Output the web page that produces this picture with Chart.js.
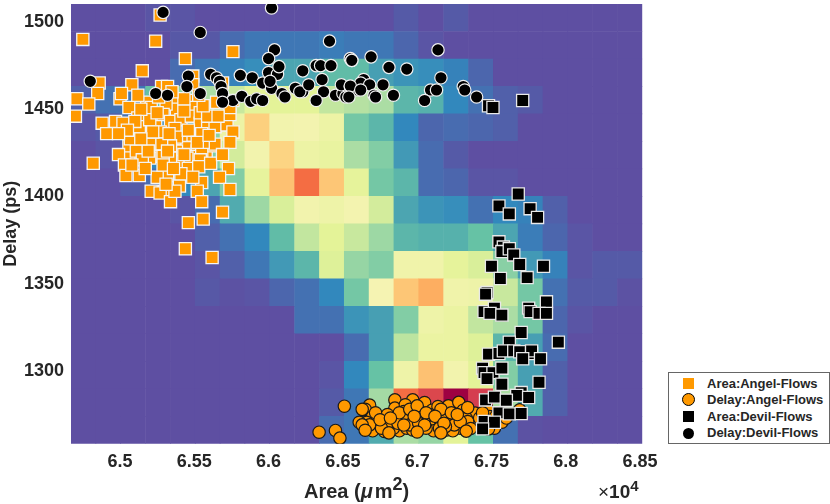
<!DOCTYPE html>
<html>
<head>
<meta charset="utf-8">
<title>Area vs Delay</title>
<script src="https://cdn.jsdelivr.net/npm/chart.js@4/dist/chart.umd.min.js"></script>
<style>
    body { margin: 0; background: #fff; font-family: "Liberation Sans", Arial, sans-serif; }
    #wrap { position: relative; width: 830px; height: 504px; overflow: hidden; }
    #xLabel { position: absolute; left: 304px; top: 480px; font-size: 20px; font-weight: bold; color: #262626; white-space: nowrap; }
    #xLabel sup { font-size: 18px; line-height: 0; }
    #xLabel i { padding-right: 2px; }
    #xExp { position: absolute; left: 598px; top: 481px; font-size: 19px; font-weight: bold; color: #262626; white-space: nowrap; }
    #xExp span { font-weight: normal; }
    #xExp sup { font-size: 15px; line-height: 0; }
    #legend { position: absolute; left: 668px; top: 372px; width: 160px; height: 70px; border: 1px solid #666; background: #fff; }
    .row { position: absolute; left: 38px; font-size: 13px; font-weight: bold; color: #262626; white-space: nowrap; line-height: 16px; }
    .mark { position: absolute; left: 13px; box-sizing: border-box; }
</style>
</head>
<body>
<div id="wrap">
    <canvas id="chart" width="830" height="504"></canvas>
    <div id="xLabel">Area (<i>&mu;</i>m<sup>2</sup>)</div>
    <div id="xExp"><span>&times;</span>10<sup>4</sup></div>
    <div id="legend"></div>
</div>
<script>
// axis ticks (area is in units of 10^4 um^2)
const areaTicks = [6.5, 6.55, 6.6, 6.65, 6.7, 6.75, 6.8, 6.85];
const delayTicks = [1300, 1350, 1400, 1450, 1500];

// background density, 23 columns and 16 rows (top row first), 0 to 10 on the colormap
const heatAreaCenters = [6.4754, 6.4921, 6.5088, 6.5256, 6.5423, 6.5590, 6.5757, 6.5924, 6.6091, 6.6259, 6.6426, 6.6593,
    6.6760, 6.6927, 6.7094, 6.7262, 6.7429, 6.7596, 6.7763, 6.7930, 6.8097, 6.8265, 6.8432];
const heatDelayEdges = [1510.3, 1494.55, 1478.8, 1463.05, 1447.3, 1431.55, 1415.8, 1400.05, 1384.3,
    1368.55, 1352.8, 1337.05, 1321.3, 1305.55, 1289.8, 1274.05, 1258.3];
const heatValues = [
    [0, 0, 0, .1, .1, 0, 0, 0, 0, 0, 0, 0, 0, .2, 0, .2, 0, 0, 0, 0, 0, 0, 0],
    [0, 0, 0, 0, .15, .15, .5, .7, .7, .7, .8, .7, .7, .4, .1, 0, 0, 0, 0, 0, 0, 0, 0],
    [0, 0, 0, 0, .5, .7, .9, 1.1, 1.5, 1.5, 1.9, 1.9, 1.4, 1.2, 1.1, .9, .4, 0, 0, 0, 0, 0, 0],
    [.3, .6, .7, 2, 2.5, 3, 3.5, 4, 4, 4, 3.4, 3.2, 3, 1.8, 1.7, 1, .6, .3, .2, 0, 0, 0, 0],
    [.1, .2, .6, 1, 1.5, 2.5, 4.5, 6.3, 4.8, 4.9, 4.5, 2.2, 1.8, 1, .4, .5, .4, .3, 0, 0, 0, 0, 0],
    [0, .1, .3, 1, 1.5, 2.4, 3.7, 4.8, 6.2, 4.5, 4.3, 3, 2.4, 1.3, .5, .2, 0, 0, 0, 0, 0, 0, 0],
    [0, 0, .2, .5, 1, 1.5, 2.4, 4.2, 6.6, 8, 6.5, 4.1, 2.2, 1.8, .5, .4, .1, .1, 0, 0, 0, 0, 0],
    [0, 0, 0, 0, .1, .5, 1.6, 2.8, 3.8, 4.8, 4.6, 4.9, 3.7, 1.5, 1.2, 1.1, .6, 1, .9, .3, 0, 0, 0],
    [0, 0, 0, 0, 0, .3, .6, 1, 1.9, 3.4, 4, 3.5, 2.8, 1.8, 1.7, 1.7, 2, 1.5, .8, .4, .1, 0, 0],
    [0, 0, 0, 0, 0, .1, .3, .7, 1.3, 1.8, 3.9, 2.7, 2.4, 4.7, 4.7, 4.1, 3.8, 2.5, 1.3, .9, .1, .2, .2],
    [0, 0, 0, 0, 0, .15, .05, .1, .4, .6, 1, 2.2, 5, 6.5, 7, 4.7, 4.6, 3.5, 2.2, .6, .2, .2, .05],
    [0, 0, 0, 0, 0, 0, 0, 0, 0, .6, .6, 1.2, 1.4, 2.4, 4.6, 4.4, 3.4, 3, 2.2, .4, .1, 0, 0],
    [0, 0, 0, 0, 0, 0, 0, 0, 0, 0, 0, .5, 1.4, 3.3, 4.4, 4.4, 3.9, 1.8, 1.4, .5, 0, 0, 0],
    [0, 0, 0, 0, 0, 0, 0, 0, 0, 0, .1, 1, 2, 4.6, 6.6, 4.8, 4, 2.4, 1.4, .3, 0, 0, 0],
    [0, 0, 0, 0, 0, 0, 0, 0, 0, 0, .2, .7, 2.9, 8, 8.8, 10, 9, 3, 1.6, .3, 0, 0, 0],
    [0, 0, 0, 0, 0, 0, 0, 0, 0, 0, .5, .7, 1.6, 3, 2.7, 4, 2, .6, .05, 0, 0, 0, 0]
];
const heatStops = [[94, 79, 162], [50, 136, 189], [102, 194, 165], [171, 221, 164], [228, 243, 152], [245, 243, 178],
    [252, 222, 139], [253, 174, 97], [244, 109, 67], [213, 62, 79], [158, 1, 66]];

// [area, delay]
const areaAngelFlows = [[6.527,1504],[6.475,1490],[6.524,1489],[6.576,1483],[6.544,1479],[6.515,1472],[6.486,1465],[6.508,1464],
    [6.485,1459],[6.471,1456],[6.479,1453],[6.470,1446],[6.500,1456],[6.501,1459],[6.528,1463],[6.532,1463],[6.549,1469],[6.549,1464],
    [6.569,1465],[6.565,1454],[6.576,1455],[6.518,1454],[6.521,1451],[6.506,1451],[6.536,1454],[6.538,1450],[6.548,1455],[6.549,1451],
    [6.531,1453],[6.529,1447],[6.534,1443],[6.541,1444],[6.548,1446],[6.554,1442],[6.559,1441],[6.564,1440],[6.572,1441],[6.574,1447],
    [6.574,1451],[6.576,1437],[6.488,1442],[6.497,1443],[6.502,1442],[6.491,1436],[6.515,1441],[6.524,1440],[6.537,1439],[6.512,1445],
    [6.527,1437],[6.510,1436],[6.518,1434],[6.548,1435],[6.541,1433],[6.545,1428],[6.538,1426],[6.527,1430],[6.516,1429],[6.506,1423],
    [6.538,1434],[6.552,1426],[6.558,1423],[6.563,1429],[6.549,1423],[6.545,1422],[6.513,1440],[6.520,1444],[6.525,1448],[6.543,1449],
    [6.554,1448],[6.559,1446],[6.534,1429],[6.528,1430],[6.520,1430],[6.506,1429],[6.511,1426],[6.499,1424],[6.503,1418],[6.504,1412],
    [6.513,1412],[6.525,1423],[6.539,1420],[6.534,1422],[6.529,1423],[6.520,1422],[6.515,1421],[6.555,1426],[6.564,1430],[6.574,1431],
    [6.556,1431],[6.554,1421],[6.546,1416],[6.553,1417],[6.573,1416],[6.567,1411],[6.574,1404],[6.555,1408],[6.532,1412],[6.525,1411],
    [6.521,1403],[6.530,1403],[6.527,1402],[6.540,1406],[6.552,1403],[6.534,1397],[6.555,1397],[6.569,1391],[6.546,1385],[6.556,1387],
    [6.482,1419],[6.537,1403],[6.531,1407],[6.544,1370],[6.562,1365],
    [6.514,1450],[6.543,1456],[6.556,1452],[6.510,1443],[6.533,1436],[6.546,1438],[6.555,1436],[6.522,1437],[6.507,1433],[6.519,1426],
    [6.532,1426],[6.543,1424],[6.552,1431],[6.560,1435],[6.505,1438],[6.499,1436],[6.514,1433],[6.529,1418],[6.541,1413],[6.517,1416],
    [6.508,1418],[6.536,1416],[6.549,1411],[6.561,1419],[6.569,1424],[6.566,1446],[6.553,1458],[6.526,1457],[6.535,1460],[6.512,1458]];
const delayAngelFlows = [[6.668,1280.4],[6.665,1278],[6.685,1283.4],[6.685,1278.7],[6.697,1283.4],[6.692,1280.6],[6.705,1281.9],[6.710,1277.5],
    [6.721,1280],[6.728,1282],[6.731,1277.5],[6.739,1275.8],[6.747,1278.3],[6.714,1279.6],[6.701,1277.7],[6.691,1276.7],[6.670,1273.9],
    [6.662,1270.4],[6.666,1270.6],[6.677,1272.9],[6.683,1270.6],[6.688,1272.9],[6.695,1272.9],[6.700,1271],[6.713,1271],[6.720,1272],
    [6.725,1273.3],[6.722,1269.1],[6.731,1268.1],[6.738,1269.1],[6.743,1269.5],[6.757,1270.6],[6.769,1277.7],[6.749,1273.9],[6.752,1267.2],
    [6.748,1266.8],[6.708,1271],[6.703,1273.9],[6.717,1275.8],[6.674,1269.1],[6.670,1265.7],[6.678,1265.3],[6.688,1265.7],[6.701,1267.2],
    [6.711,1265.7],[6.720,1266.2],[6.729,1267.2],[6.684,1267.2],[6.693,1267.2],[6.697,1266.2],[6.715,1267.2],[6.724,1265.7],[6.706,1267.2],
    [6.733,1272.9],[6.692,1272],[6.680,1269.1],[6.734,1271],[6.709,1274.8],[6.725,1269.1],[6.668,1269.1],[6.695,1269.1],[6.719,1268.1],
    [6.687,1270],[6.676,1267.2],[6.701,1270],[6.729,1271],[6.651,1279.8],[6.634,1264.9],[6.645,1265.9],[6.648,1261.5],[6.661,1270.6],
    [6.663,1269.1],[6.663,1278],
    [6.672,1276],[6.680,1275],[6.688,1276],[6.695,1278],[6.700,1280],[6.706,1276],[6.716,1278],[6.723,1276],[6.734,1279],[6.742,1273],
    [6.675,1272],[6.682,1273],[6.691,1269],[6.698,1274],[6.705,1269],[6.712,1274],[6.718,1270],[6.727,1275],[6.736,1267],[6.744,1276],
    [6.753,1274],[6.760,1273],[6.665,1266],[6.681,1264.5],[6.700,1265],[6.716,1264.5],[6.733,1265.5]];
const areaDevilFlows = [[6.748,1452],[6.751,1451],[6.771,1455],[6.768,1401.4],[6.755,1394.6],[6.762,1390],[6.776,1393],[6.781,1388],
    [6.755,1374],[6.758,1371],[6.757,1368.4],[6.762,1370],[6.765,1366.5],[6.750,1360],[6.769,1361],[6.785,1360],[6.774,1353.5],[6.756,1353],
    [6.747,1345],[6.746,1344],[6.787,1339.6],[6.775,1336],[6.776,1334],[6.782,1333],[6.787,1333],[6.745,1334],[6.752,1336],[6.749,1333],
    [6.757,1332],[6.770,1322],[6.762,1316.5],[6.795,1316.5],[6.748,1309.6],[6.755,1310],[6.758,1311.5],[6.765,1311.5],[6.769,1311],
    [6.777,1310],[6.777,1311.5],[6.771,1307],[6.783,1307],[6.744,1301.6],[6.745,1299],[6.751,1299],[6.757,1301.6],[6.747,1295.6],
    [6.757,1292.4],[6.782,1293.5],[6.770,1287.6],[6.767,1286],[6.775,1284.8],[6.746,1283.4],[6.752,1285],[6.760,1283.2],[6.755,1276],
    [6.762,1275.4],[6.770,1275.6],[6.745,1271],[6.752,1270.6],[6.744,1266.8]];
const delayDevilFlows = [[6.529,1505.5],[6.602,1508],[6.554,1494],[6.641,1489],[6.604,1484],[6.600,1479],[6.480,1466],[6.546,1469],[6.545,1463],
    [6.524,1459],[6.532,1458],[6.554,1459],[6.561,1470],[6.565,1468],[6.567,1466],[6.568,1463],[6.569,1459],[6.576,1455],[6.569,1454],
    [6.581,1469.4],[6.589,1468],[6.596,1465],[6.600,1471],[6.606,1470],[6.607,1474.4],[6.582,1457.4],[6.588,1454.5],[6.592,1456],[6.596,1455],
    [6.602,1462],[6.609,1459],[6.611,1457],[6.618,1462],[6.623,1460],[6.621,1460],[6.627,1464],[6.623,1472],[6.636,1467],[6.632,1475],
    [6.635,1475],[6.642,1475],[6.655,1479],[6.656,1478],[6.637,1460],[6.632,1455],[6.645,1458],[6.650,1459],[6.652,1457],[6.649,1464],
    [6.655,1463],[6.660,1461],[6.601,1466],[6.656,1478],[6.669,1480],[6.681,1474],[6.693,1473],[6.714,1484],[6.664,1467],[6.662,1465],
    [6.668,1464],[6.677,1464],[6.655,1463.3],[6.662,1461],[6.671,1458],[6.672,1457],[6.684,1458],[6.654,1457],[6.716,1468],[6.709,1461],
    [6.713,1461],[6.705,1455],[6.731,1463],[6.732,1461],[6.740,1457]];

const textColor = '#262626';
const angelColor = '#ff9900';

// Spectral colormap lookup
function heatColor(v) {
    const i = Math.min(Math.floor(v), heatStops.length - 2);
    const t = v - i;
    const c = heatStops[i].map((a, k) => Math.round(a + (heatStops[i + 1][k] - a) * t));
    return `rgb(${c[0]},${c[1]},${c[2]})`;
}

function toPoints(pairs) {
    return pairs.map(p => ({ x: p[0], y: p[1] }));
}

// one floating bar per heat cell
const heatCells = [];
const heatColors = [];
heatValues.forEach((row, r) => {
    row.forEach((v, c) => {
        heatCells.push({ x: heatAreaCenters[c], y: [heatDelayEdges[r + 1], heatDelayEdges[r]] });
        heatColors.push(heatColor(v));
    });
});

function scatterSet(label, pairs, style, radius, fill, edge, edgeWidth, order) {
    return {
        type: 'scatter',
        label: label,
        data: toPoints(pairs),
        pointStyle: style,
        pointRadius: radius,
        pointBackgroundColor: fill,
        pointBorderColor: edge,
        pointBorderWidth: edgeWidth,
        order: order
    };
}

const tickFont = { family: '"Liberation Sans", Arial, sans-serif', size: 18, weight: 'bold' };

new Chart(document.getElementById('chart').getContext('2d'), {
    type: 'bar',
    data: {
        datasets: [
            scatterSet('Area:Angel-Flows', areaAngelFlows, 'rect', 8.6, angelColor, '#f4f4f4', 1.3, 4),
            scatterSet('Delay:Angel-Flows', delayAngelFlows, 'circle', 6.2, angelColor, '#1a1a1a', 1.2, 3),
            scatterSet('Area:Devil-Flows', areaDevilFlows, 'rect', 8.6, '#000', '#e8e8e8', 1.3, 2),
            scatterSet('Delay:Devil-Flows', delayDevilFlows, 'circle', 6.2, '#000', '#f0f0f0', 1.2, 1),
            {
                type: 'bar',
                label: 'Density',
                data: heatCells,
                backgroundColor: heatColors,
                borderWidth: 0,
                barPercentage: 1,
                categoryPercentage: 1,
                order: 5
            }
        ]
    },
    options: {
        responsive: false,
        animation: false,
        layout: { autoPadding: false, padding: { left: 0, top: 4, right: 187.7, bottom: 0 } },
        plugins: { legend: { display: false }, tooltip: { enabled: false } },
        scales: {
            x: {
                type: 'linear',
                offset: false,
                min: 6.46703,
                max: 6.8515,
                grid: { display: false, drawTicks: false, offset: false },
                border: { display: false },
                afterBuildTicks: s => { s.ticks = areaTicks.map(v => ({ value: v })); },
                afterFit: s => { s.height = 60.3; s.paddingLeft = 0; s.paddingRight = 0; },
                ticks: {
                    color: textColor,
                    font: tickFont,
                    padding: 8,
                    autoSkip: false,
                    maxRotation: 0,
                    callback: v => String(v)
                }
            },
            y: {
                type: 'linear',
                min: 1258.3,
                max: 1510.3,
                grid: { display: false, drawTicks: false },
                border: { display: false },
                afterBuildTicks: s => { s.ticks = delayTicks.map(v => ({ value: v })); },
                afterFit: s => { s.width = 71; s.paddingTop = 0; s.paddingBottom = 0; },
                ticks: { color: textColor, font: tickFont, padding: 7, callback: v => String(v) },
                title: {
                    display: true,
                    text: 'Delay (ps)',
                    color: textColor,
                    font: { family: tickFont.family, size: 18, weight: 'bold' },
                    padding: 0
                }
            }
        }
    }
});

// legend box next to the plot
const legendRows = [
    { label: 'Area:Angel-Flows', top: 3, css: 'width:11px;height:11px;background:' + angelColor + ';left:14px;top:5px' },
    { label: 'Delay:Angel-Flows', top: 19, css: 'width:13px;height:13px;border-radius:50%;background:' + angelColor + ';border:1px solid #000;top:20px' },
    { label: 'Area:Devil-Flows', top: 36, css: 'width:11px;height:11px;background:#000;left:14px;top:38px' },
    { label: 'Delay:Devil-Flows', top: 52, css: 'width:11px;height:11px;border-radius:50%;background:#000;left:14px;top:55px' }
];
const legend = document.getElementById('legend');
legendRows.forEach(r => {
    legend.innerHTML += `<div class="mark" style="${r.css}"></div><div class="row" style="top:${r.top}px">${r.label}</div>`;
});
</script>
</body>
</html>
